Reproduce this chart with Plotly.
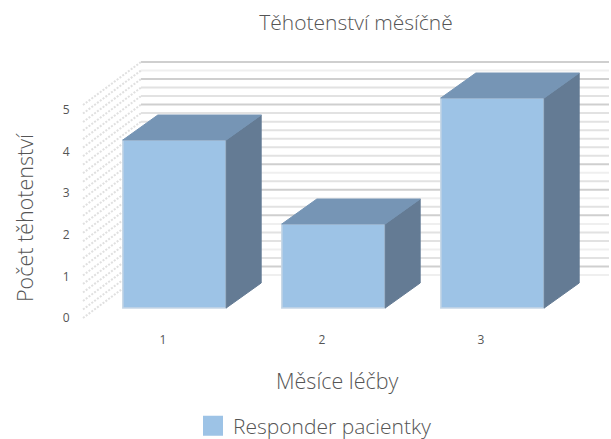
import plotly.graph_objects as go

# Chart content
months = [1, 2, 3]
pregnancies = [4, 2, 5]
value_ticks = [0, 1, 2, 3, 4, 5]
grid_values = [i / 5 for i in range(26)]  # gridlines every 0.2
title_text = "Těhotenství měsíčně"
y_title = "Počet těhotenství"
x_title = "Měsíce léčby"
series_name = "Responder pacientky"

# Page and plot geometry
W, H = 611, 439
M_L, M_R, M_T, M_B = 78, 0, 55, 114
PX_PER_MONTH = 159.0
PX_PER_VALUE = 42.0
FIRST_BAR_PX = 174.5   # page x of month 1
ZERO_PX = 308.0        # page y of value 0


def month_at(px):
    return 1 + (px - FIRST_BAR_PX) / PX_PER_MONTH


def value_at(py):
    return (ZERO_PX - py) / PX_PER_VALUE


# Oblique projection: bar depth and the walls of the 3-D box, in axis units
BAR_WIDTH = 0.65
DEPTH_X = 35 / PX_PER_MONTH
DEPTH_Y = 25 / PX_PER_VALUE
WALL_SCALE = 213 / (5 * PX_PER_VALUE)
WALL_FRONT_X = month_at(83)
WALL_BACK_X = month_at(141)
WALL_RIGHT_X = month_at(609)
WALL_FRONT_Y0 = value_at(318)
WALL_BACK_Y0 = value_at(275)

FRONT = "#9DC3E6"
TOP = "#7695B5"
SIDE = "#647B94"
EDGE = "#C6D6E6"
TEXT = "#555555"
FONT = "Open Sans"

# Gridline shades on the back wall, bottom to top
D, M, L = "#CFCFCF", "#E2E2E2", "#EFEFEF"
grid_shades = [L, D, M, L, M, M, L, D, M, L, D, M, L, D,
               M, M, M, M, M, M, D, M, M, D, L, D]

fig = go.Figure()

fig.add_trace(go.Bar(
    x=months, y=pregnancies, width=BAR_WIDTH, showlegend=False, hoverinfo="skip",
    marker=dict(color=FRONT, line=dict(color=EDGE, width=1.5)),
))

# Top and side faces of every bar follow from its value
for m, v in zip(months, pregnancies):
    left, right = m - BAR_WIDTH / 2, m + BAR_WIDTH / 2
    fig.add_trace(go.Scatter(
        x=[right, right + DEPTH_X, right + DEPTH_X, right, right],
        y=[0, DEPTH_Y, v + DEPTH_Y, v, 0],
        mode="lines", fill="toself", fillcolor=SIDE,
        line=dict(color=SIDE, width=1), showlegend=False, hoverinfo="skip",
    ))
    fig.add_trace(go.Scatter(
        x=[left, left + DEPTH_X, right + DEPTH_X, right, left],
        y=[v, v + DEPTH_Y, v + DEPTH_Y, v, v],
        mode="lines", fill="toself", fillcolor=TOP,
        line=dict(color=TOP, width=1), showlegend=False, hoverinfo="skip",
    ))

# Legend entry
fig.add_trace(go.Scatter(
    x=[None], y=[None], name=series_name, mode="markers",
    marker=dict(symbol="square", size=16, color=FRONT, line=dict(color=FRONT, width=4)),
))

# Wall gridlines sit beneath the bars
shapes = []
for g, shade in zip(grid_values, grid_shades):
    back_y = WALL_BACK_Y0 + g * WALL_SCALE
    front_y = WALL_FRONT_Y0 + g * WALL_SCALE
    shapes.append(dict(type="line", layer="below", xref="x", yref="y",
                       x0=WALL_BACK_X, x1=WALL_RIGHT_X, y0=back_y, y1=back_y,
                       line=dict(color=shade, width=2)))
    shapes.append(dict(type="line", layer="below", xref="x", yref="y",
                       x0=WALL_FRONT_X, x1=WALL_BACK_X, y0=front_y, y1=back_y,
                       line=dict(color="#E0E0E0", width=2, dash="2px,1.5px")))


def paper_x(px):
    return (px - M_L) / (W - M_L - M_R)


def paper_y(py):
    return (H - M_B - py) / (H - M_T - M_B)


annotations = [
    dict(text=y_title, xref="paper", yref="paper", x=paper_x(25), y=paper_y(218),
         xanchor="center", yanchor="middle", showarrow=False, textangle=-90,
         font=dict(size=21.5, color=TEXT, family=FONT, weight=300)),
    dict(text=x_title, xref="paper", yref="paper", x=paper_x(337), y=paper_y(380),
         xanchor="center", yanchor="middle", showarrow=False,
         font=dict(size=21.5, color=TEXT, family=FONT, weight=300)),
]

# Tick labels sit on the front edge of the box, offset from the bars
x_tick_shift = 11.5 / PX_PER_MONTH
fig.update_layout(
    width=W, height=H, margin=dict(l=M_L, r=M_R, t=M_T, b=M_B, autoexpand=False),
    paper_bgcolor="white", plot_bgcolor="white",
    font=dict(family=FONT, color=TEXT),
    title=dict(text=title_text, x=356 / W, xanchor="center", y=1 - 23 / H, yanchor="middle",
               font=dict(size=21, color=TEXT, family=FONT, weight=300)),
    xaxis=dict(range=[month_at(M_L), month_at(W)], showgrid=False, zeroline=False, showline=False,
               tickmode="array", tickvals=[m - x_tick_shift for m in months],
               ticktext=[str(m) for m in months], ticks="outside", ticklen=4,
               tickcolor="rgba(0,0,0,0)", tickfont=dict(size=12, color=TEXT, family=FONT)),
    yaxis=dict(range=[value_at(H - M_B), value_at(M_T)], showgrid=False, zeroline=False, showline=False,
               tickmode="array", tickvals=[value_at(318 - t * 41.6) for t in value_ticks],
               ticktext=[str(t) for t in value_ticks], ticks="outside", ticklen=5,
               tickcolor="rgba(0,0,0,0)", tickfont=dict(size=12, color=TEXT, family=FONT)),
    showlegend=True,
    legend=dict(x=paper_x(193), y=paper_y(426), xanchor="left", yanchor="middle",
                bgcolor="rgba(0,0,0,0)", font=dict(size=21, color=TEXT, family=FONT, weight=300)),
    shapes=shapes, annotations=annotations,
)

fig.write_html("out.html", config=dict(displayModeBar=False))
